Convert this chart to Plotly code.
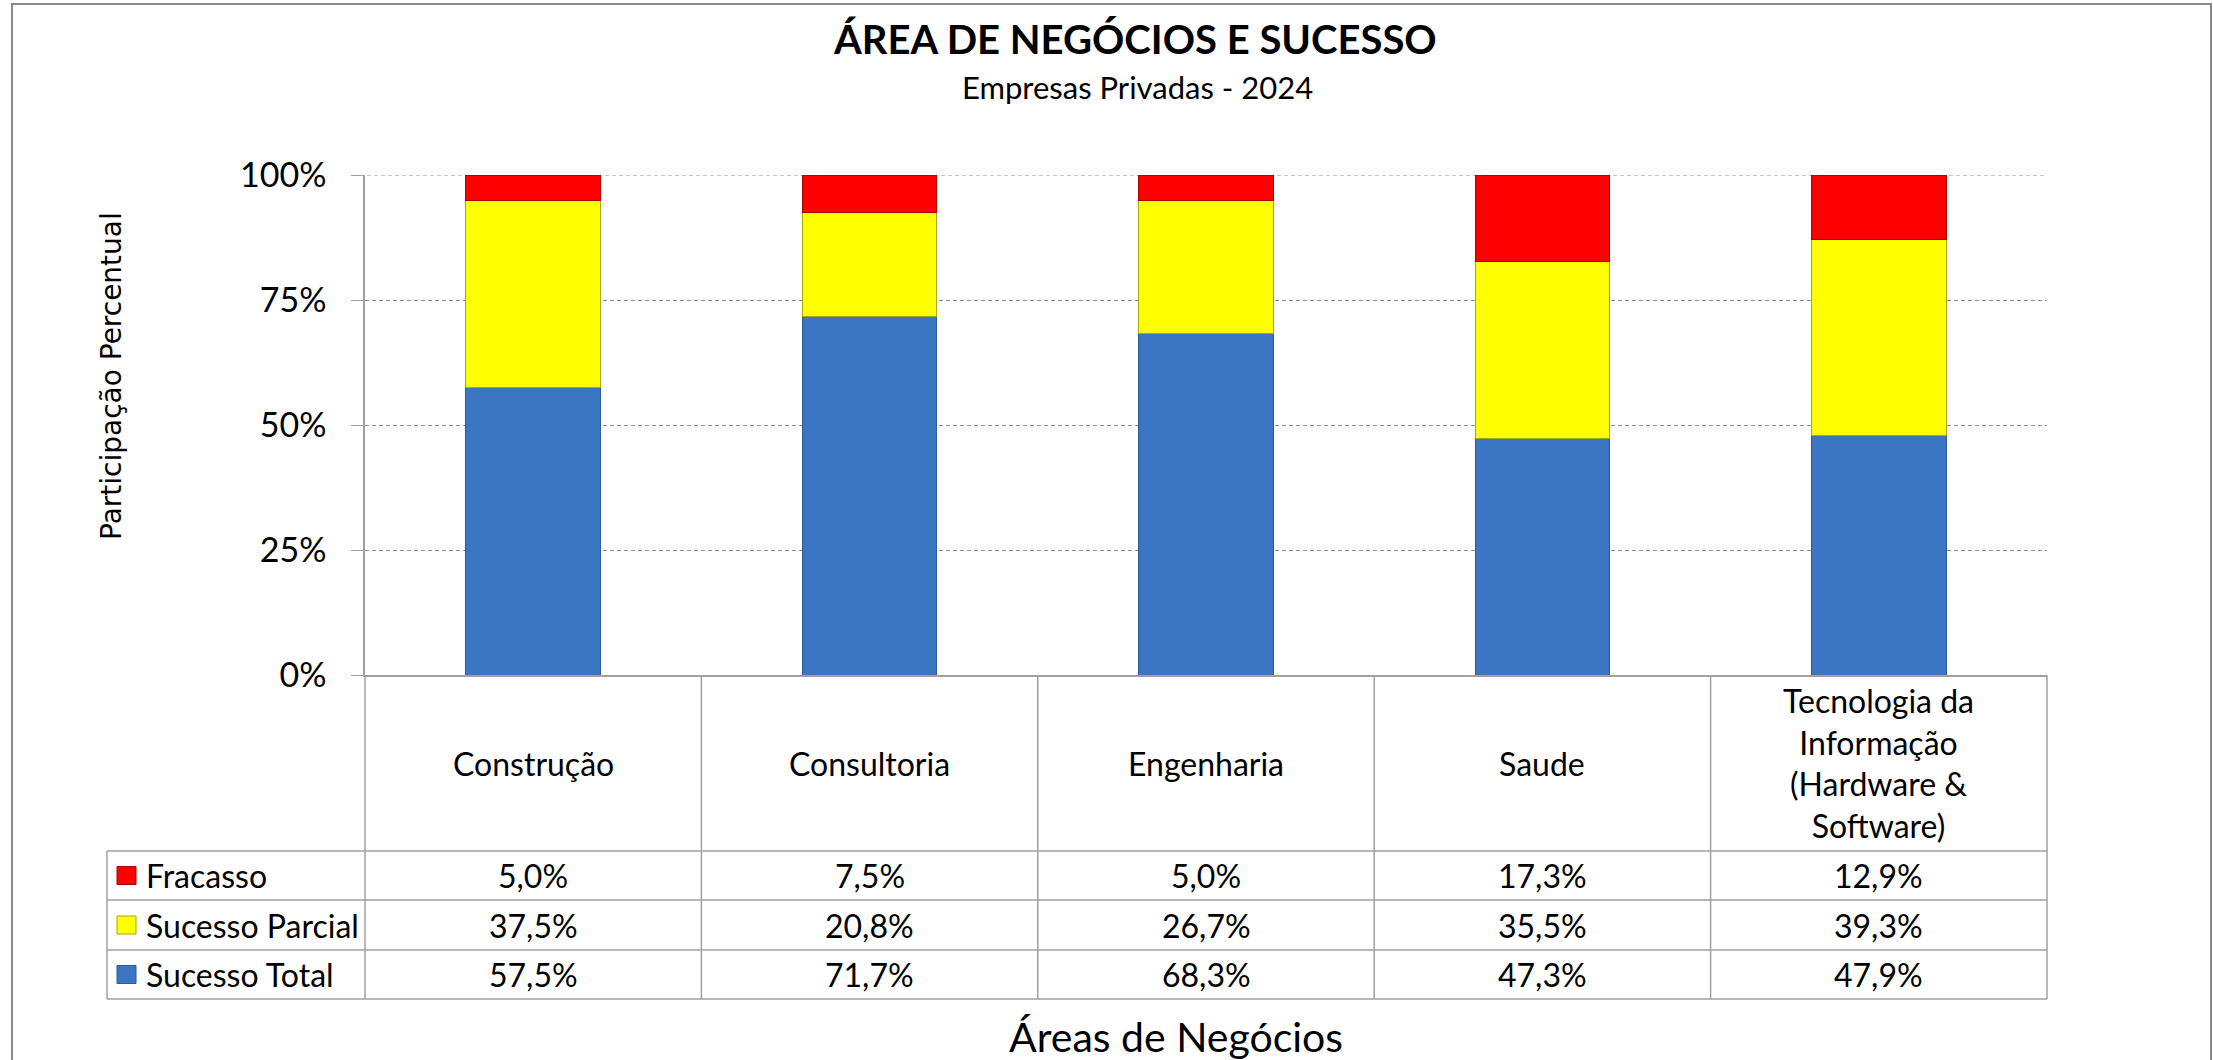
import plotly.graph_objects as go

# ---------------- data ----------------
categorias = ["Construção", "Consultoria", "Engenharia", "Saude",
              "Tecnologia da Informação (Hardware & Software)"]
rotulos = ["Construção", "Consultoria", "Engenharia", "Saude",
           "Tecnologia da<br>Informação<br>(Hardware &<br>Software)"]
series = ["Fracasso", "Sucesso Parcial", "Sucesso Total"]
fracasso = [5.0, 7.5, 5.0, 17.3, 12.9]
sucesso_parcial = [37.5, 20.8, 26.7, 35.5, 39.3]
sucesso_total = [57.5, 71.7, 68.3, 47.3, 47.9]
y_ticks = [0, 25, 50, 75, 100]

titulo = "ÁREA DE NEGÓCIOS E SUCESSO"
subtitulo = "Empresas Privadas - 2024"
titulo_y = "Participação Percentual"
titulo_x = "Áreas de Negócios"

# ---------------- layout helpers (pixel -> paper) ----------------
W, H = 2213, 1060
L, R, T, B = 365, 2047, 175, 675


def px(x):
    return (x - L) / (R - L)


def py(y):
    return (B - y) / (B - T)


FONT = "Lato, 'Open Sans', sans-serif"
GRID = "#a0a0a0"
DASHGRID = "#8e8e8e"
DASH = "4px,3px"
cores = {"Fracasso": "#ff0000", "Sucesso Parcial": "#ffff00", "Sucesso Total": "#3b76c2"}
bordas = {"Fracasso": "#b30000", "Sucesso Parcial": "#a8a800", "Sucesso Total": "#2b5a96"}
valores = {"Fracasso": fracasso, "Sucesso Parcial": sucesso_parcial, "Sucesso Total": sucesso_total}

fig = go.Figure()
for nome in ["Sucesso Total", "Sucesso Parcial", "Fracasso"]:
    fig.add_trace(go.Bar(
        x=categorias, y=valores[nome], name=nome, width=0.4,
        marker=dict(color=cores[nome], line=dict(color=bordas[nome], width=1)),
        hoverinfo="skip",
    ))

shapes = []
annotations = []

# outer frame
shapes.append(dict(type="rect", xref="paper", yref="paper",
                   x0=px(12), x1=px(2211), y0=py(1070), y1=py(4),
                   line=dict(color="#8a8a8a", width=2), fillcolor="rgba(0,0,0,0)", layer="below"))

# top gridline (100%), drawn below the bars like the other gridlines
shapes.append(dict(type="line", xref="paper", yref="y", x0=px(353), x1=1,
                   y0=y_ticks[-1], y1=y_ticks[-1], layer="below",
                   line=dict(color=DASHGRID, width=1, dash=DASH)))

# table lines
line = dict(color=GRID, width=1.5)
for k in range(len(categorias) + 1):
    xp = k / len(categorias)
    shapes.append(dict(type="line", xref="paper", yref="paper",
                       x0=xp, x1=xp, y0=py(675), y1=py(999), line=line))
for yy in [851, 900, 950, 999]:
    shapes.append(dict(type="line", xref="paper", yref="paper",
                       x0=px(107), x1=1, y0=py(yy), y1=py(yy), line=line))
shapes.append(dict(type="line", xref="paper", yref="paper",
                   x0=px(107), x1=px(107), y0=py(851), y1=py(999), line=line))

# header category labels
for cat, rot in zip(categorias, rotulos):
    annotations.append(dict(x=cat, xref="x", y=py(763), yref="paper", text=rot,
                            showarrow=False, xanchor="center", yanchor="middle",
                            font=dict(family=FONT, size=32, color="#000")))

# value rows
row_centers = {"Fracasso": 875.5, "Sucesso Parcial": 925, "Sucesso Total": 974.5}
for nome in series:
    yc = row_centers[nome]
    for cat, v in zip(categorias, valores[nome]):
        annotations.append(dict(x=cat, xref="x", y=py(yc), yref="paper",
                                text=f"{v:.1f}".replace(".", ",") + "%",
                                showarrow=False, xanchor="center", yanchor="middle",
                                font=dict(family=FONT, size=32, color="#000")))
    # legend key
    shapes.append(dict(type="rect", xref="paper", yref="paper",
                       x0=px(117), x1=px(136), y0=py(yc + 9), y1=py(yc - 9),
                       fillcolor=cores[nome], line=dict(color=bordas[nome], width=1)))
    annotations.append(dict(x=px(144), xref="paper", y=py(yc), yref="paper", text=nome,
                            showarrow=False, xanchor="left", yanchor="middle",
                            font=dict(family=FONT, size=32, color="#000")))

# titles
annotations.append(dict(x=px(1135), xref="paper", y=py(39), yref="paper", text=f"<b>{titulo}</b>",
                        showarrow=False, xanchor="center", yanchor="middle",
                        font=dict(family=FONT, size=40, color="#000")))
annotations.append(dict(x=px(1137), xref="paper", y=py(87), yref="paper", text=subtitulo,
                        showarrow=False, xanchor="center", yanchor="middle",
                        font=dict(family=FONT, size=31, color="#000")))
annotations.append(dict(x=px(111), xref="paper", y=py(376), yref="paper", text=titulo_y,
                        showarrow=False, xanchor="center", yanchor="middle", textangle=-90,
                        font=dict(family="DejaVu Sans", size=28, color="#000")))
annotations.append(dict(x=px(1176), xref="paper", y=py(1036), yref="paper", text=titulo_x,
                        showarrow=False, xanchor="center", yanchor="middle",
                        font=dict(family=FONT, size=41, color="#000")))

fig.update_layout(
    width=W, height=H, autosize=False,
    margin=dict(l=L, r=W - R, t=T, b=H - B, pad=0),
    paper_bgcolor="white", plot_bgcolor="white",
    barmode="stack", barnorm="percent", showlegend=False,
    shapes=shapes, annotations=annotations,
    xaxis=dict(type="category", range=[-0.5, len(categorias) - 0.5], showticklabels=False,
               showgrid=False, zeroline=False, showline=True, linecolor=GRID, linewidth=1.5,
               ticks="", fixedrange=True),
    yaxis=dict(range=[0, 100], tickvals=y_ticks, ticktext=[f"{t}%" for t in y_ticks],
               showgrid=True, gridcolor=DASHGRID, griddash=DASH, gridwidth=1,
               zeroline=False, showline=True, linecolor=GRID, linewidth=1.5,
               ticks="outside", ticklen=12, tickcolor=GRID, tickwidth=1,
               ticklabelstandoff=18,
               tickfont=dict(family=FONT, size=34, color="#000"), fixedrange=True),
)

fig.write_html("out.html", config={"displayModeBar": False},
               post_script="document.body.style.margin='0';document.body.style.overflow='hidden';")
